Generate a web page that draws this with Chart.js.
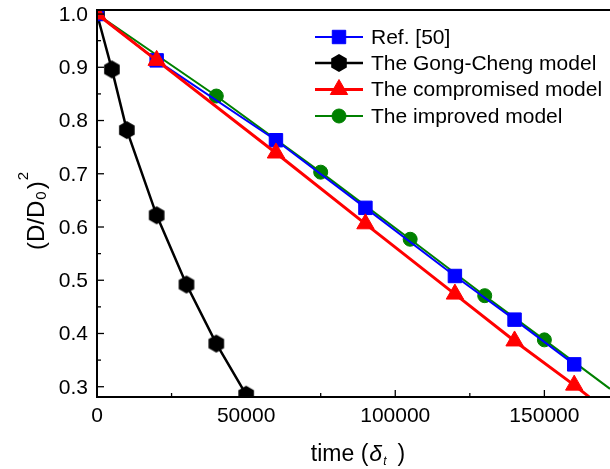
<!DOCTYPE html>
<html>
<head>
<meta charset="utf-8">
<script src="https://cdn.jsdelivr.net/npm/chart.js@4.4.1/dist/chart.umd.min.js"></script>
<style>
    html, body { margin: 0; padding: 0; background: #fff; }
    #wrap { width: 610px; height: 469px; }
</style>
</head>
<body>
<div id="wrap"><canvas id="chart" width="610" height="469"></canvas></div>
<script>
// Data
const refTime = [0, 20000, 60000, 90000, 120000, 140000, 160000];
const refValue = [1.0, 0.913, 0.763, 0.636, 0.508, 0.426, 0.342];

const gongTime = [0, 5000, 10000, 20000, 30000, 40000, 50000];
const gongValue = [1.0, 0.896, 0.782, 0.622, 0.492, 0.381, 0.285];

// last point is where the line leaves the plot (no marker)
const compTime = [0, 20000, 60000, 90000, 120000, 140000, 160000, 165000];
const compValue = [1.0, 0.913, 0.739, 0.606, 0.474, 0.386, 0.303, 0.281];

const impTime = [0, 40000, 75000, 105000, 130000, 150000, 172000];
const impValue = [1.0, 0.846, 0.703, 0.577, 0.471, 0.388, 0.296];

const seriesNames = ['Ref. [50]', 'The Gong-Cheng model', 'The compromised model', 'The improved model'];

const xTicks = [0, 50000, 100000, 150000];
const xMinorTicks = [25000, 75000, 125000];
const yTicks = [0.3, 0.4, 0.5, 0.6, 0.7, 0.8, 0.9, 1.0];
const yMinorTicks = [0.35, 0.45, 0.55, 0.65, 0.75, 0.85, 0.95];

const FONT = "'Liberation Sans', Arial, sans-serif";

function toPoints(xs, ys) {
    return xs.map((x, i) => ({ x: x, y: ys[i] }));
}

// pointy-top hexagon marker
function makeHexagon(r, color) {
    const w = Math.ceil(r * Math.sqrt(3)) + 2;
    const h = Math.ceil(2 * r) + 2;
    const c = document.createElement('canvas');
    c.width = w;
    c.height = h;
    const g = c.getContext('2d');
    g.beginPath();
    for (let i = 0; i < 6; i++) {
        const a = -Math.PI / 2 + i * Math.PI / 3;
        const px = w / 2 + r * Math.cos(a);
        const py = h / 2 + r * Math.sin(a);
        if (i === 0) g.moveTo(px, py); else g.lineTo(px, py);
    }
    g.closePath();
    g.fillStyle = color;
    g.fill();
    return c;
}

const hexagon = makeHexagon(9, '#000');

function markerRadii(n, r, tail) {
    return Array.from({ length: n }, (_, i) => (i >= n - tail ? 0 : r));
}

const datasets = [
    {
        label: seriesNames[0],
        data: toPoints(refTime, refValue),
        borderColor: '#0000ff',
        borderWidth: 2,
        pointStyle: 'rect',
        pointRadius: 9.5,
        pointBorderWidth: 1,
        order: 1
    },
    {
        label: seriesNames[1],
        data: toPoints(gongTime, gongValue),
        borderColor: '#000000',
        borderWidth: 2.5,
        pointStyle: hexagon,
        pointRadius: 9,
        pointBorderWidth: 0,
        order: 2
    },
    {
        label: seriesNames[2],
        data: toPoints(compTime, compValue),
        borderColor: '#ff0000',
        borderWidth: 3,
        pointStyle: 'triangle',
        pointRadius: markerRadii(compTime.length, 10, 1),
        pointBorderWidth: 1,
        order: 0
    },
    {
        label: seriesNames[3],
        data: toPoints(impTime, impValue),
        borderColor: '#008000',
        borderWidth: 2,
        pointStyle: 'circle',
        pointRadius: markerRadii(impTime.length, 7, 1),
        pointBorderWidth: 1,
        order: 3
    }
];

datasets.forEach(ds => {
    ds.showLine = true;
    ds.tension = 0;
    ds.fill = false;
    ds.clip = 0;
    ds.backgroundColor = ds.borderColor;
    ds.pointBackgroundColor = ds.borderColor;
    ds.pointBorderColor = ds.borderColor;
});

// Frame, inward ticks, tick labels, axis titles and in-plot legend
const decorPlugin = {
    id: 'decor',
    afterDraw(chart) {
        const ctx = chart.ctx;
        const area = chart.chartArea;
        const xs = chart.scales.x;
        const ys = chart.scales.y;

        ctx.save();
        ctx.strokeStyle = '#000';

        // ticks (pointing inward)
        ctx.lineWidth = 1.3;
        const tick = (x1, y1, x2, y2) => {
            ctx.beginPath();
            ctx.moveTo(x1, y1);
            ctx.lineTo(x2, y2);
            ctx.stroke();
        };
        xTicks.forEach(v => { const p = xs.getPixelForValue(v); tick(p, area.bottom, p, area.bottom - 7); });
        xMinorTicks.forEach(v => { const p = xs.getPixelForValue(v); tick(p, area.bottom, p, area.bottom - 4); });
        yTicks.forEach(v => { const p = ys.getPixelForValue(v); tick(area.left, p, area.left + 7, p); });
        yMinorTicks.forEach(v => { const p = ys.getPixelForValue(v); tick(area.left, p, area.left + 4, p); });

        // frame
        ctx.lineWidth = 2;
        ctx.beginPath();
        ctx.moveTo(area.right, area.top);
        ctx.lineTo(area.left, area.top);
        ctx.lineTo(area.left, area.bottom);
        ctx.lineTo(area.right, area.bottom);
        ctx.stroke();

        // tick labels
        ctx.fillStyle = '#000';
        ctx.font = '21px ' + FONT;
        ctx.textBaseline = 'middle';
        ctx.textAlign = 'center';
        xTicks.forEach(v => ctx.fillText(String(v), xs.getPixelForValue(v), area.bottom + 19));
        ctx.textAlign = 'right';
        yTicks.forEach(v => ctx.fillText(v.toFixed(1), area.left - 9, ys.getPixelForValue(v) + 1));

        ctx.textBaseline = 'alphabetic';
        ctx.textAlign = 'left';

        // x title: time (δt)
        const xParts = [
            { t: 'time (', f: '23px ' + FONT, dy: 0, gap: 1 },
            { t: 'δ', f: 'italic 23px ' + FONT, dy: 0, gap: 1 },
            { t: 't', f: 'italic 12px ' + FONT, dy: 4, gap: 11 },
            { t: ')', f: '23px ' + FONT, dy: 0, gap: 0 }
        ];
        let total = 0;
        xParts.forEach(p => { ctx.font = p.f; p.w = ctx.measureText(p.t).width; total += p.w + p.gap; });
        let cx = 358 - total / 2;
        xParts.forEach(p => {
            ctx.font = p.f;
            ctx.fillText(p.t, cx, 461 + p.dy);
            cx += p.w + p.gap;
        });

        // y title: (D/D0)^2
        const yParts = [
            { t: '(D/D', f: '24px ' + FONT, dy: 0, gap: 1 },
            { t: '0', f: '15px ' + FONT, dy: 2, gap: 2 },
            { t: ')', f: '24px ' + FONT, dy: 0, gap: 1 },
            { t: '2', f: '15px ' + FONT, dy: -16, gap: 0 }
        ];
        total = 0;
        yParts.forEach(p => { ctx.font = p.f; p.w = ctx.measureText(p.t).width; total += p.w + p.gap; });
        ctx.save();
        ctx.translate(44, 211);
        ctx.rotate(-Math.PI / 2);
        cx = -total / 2;
        yParts.forEach(p => {
            ctx.font = p.f;
            ctx.fillText(p.t, cx, p.dy);
            cx += p.w + p.gap;
        });
        ctx.restore();

        // legend
        const rowY = [37, 63, 89.5, 116];
        ctx.font = '21px ' + FONT;
        ctx.textBaseline = 'middle';
        chart.data.datasets.forEach((ds, i) => {
            const y = rowY[i];
            ctx.strokeStyle = ds.borderColor;
            ctx.lineWidth = ds.borderWidth;
            ctx.beginPath();
            ctx.moveTo(315, y);
            ctx.lineTo(363, y);
            ctx.stroke();
            const r = Array.isArray(ds.pointRadius) ? ds.pointRadius[0] : ds.pointRadius;
            ctx.fillStyle = ds.borderColor;
            ctx.lineWidth = ds.pointBorderWidth;
            Chart.helpers.drawPoint(ctx, { pointStyle: ds.pointStyle, radius: r, rotation: 0, borderWidth: ds.pointBorderWidth }, 339, y);
            ctx.fillStyle = '#000';
            ctx.fillText(ds.label, 371, y + 1);
        });

        ctx.restore();
    }
};

new Chart(document.getElementById('chart'), {
    type: 'scatter',
    data: { datasets: datasets },
    options: {
        responsive: false,
        animation: false,
        events: [],
        layout: { autoPadding: false, padding: { top: 10, right: 0, bottom: 0, left: 0 } },
        plugins: {
            legend: { display: false },
            tooltip: { enabled: false }
        },
        scales: {
            x: {
                type: 'linear',
                min: 0,
                max: 172000,
                grid: { display: false, drawTicks: false },
                border: { display: false },
                ticks: { display: false },
                afterFit: s => { s.height = 72; }
            },
            y: {
                type: 'linear',
                min: 0.2807,
                max: 1.0076,
                grid: { display: false, drawTicks: false },
                border: { display: false },
                ticks: { display: false },
                afterFit: s => { s.width = 97; }
            }
        }
    },
    plugins: [decorPlugin]
});
</script>
</body>
</html>
